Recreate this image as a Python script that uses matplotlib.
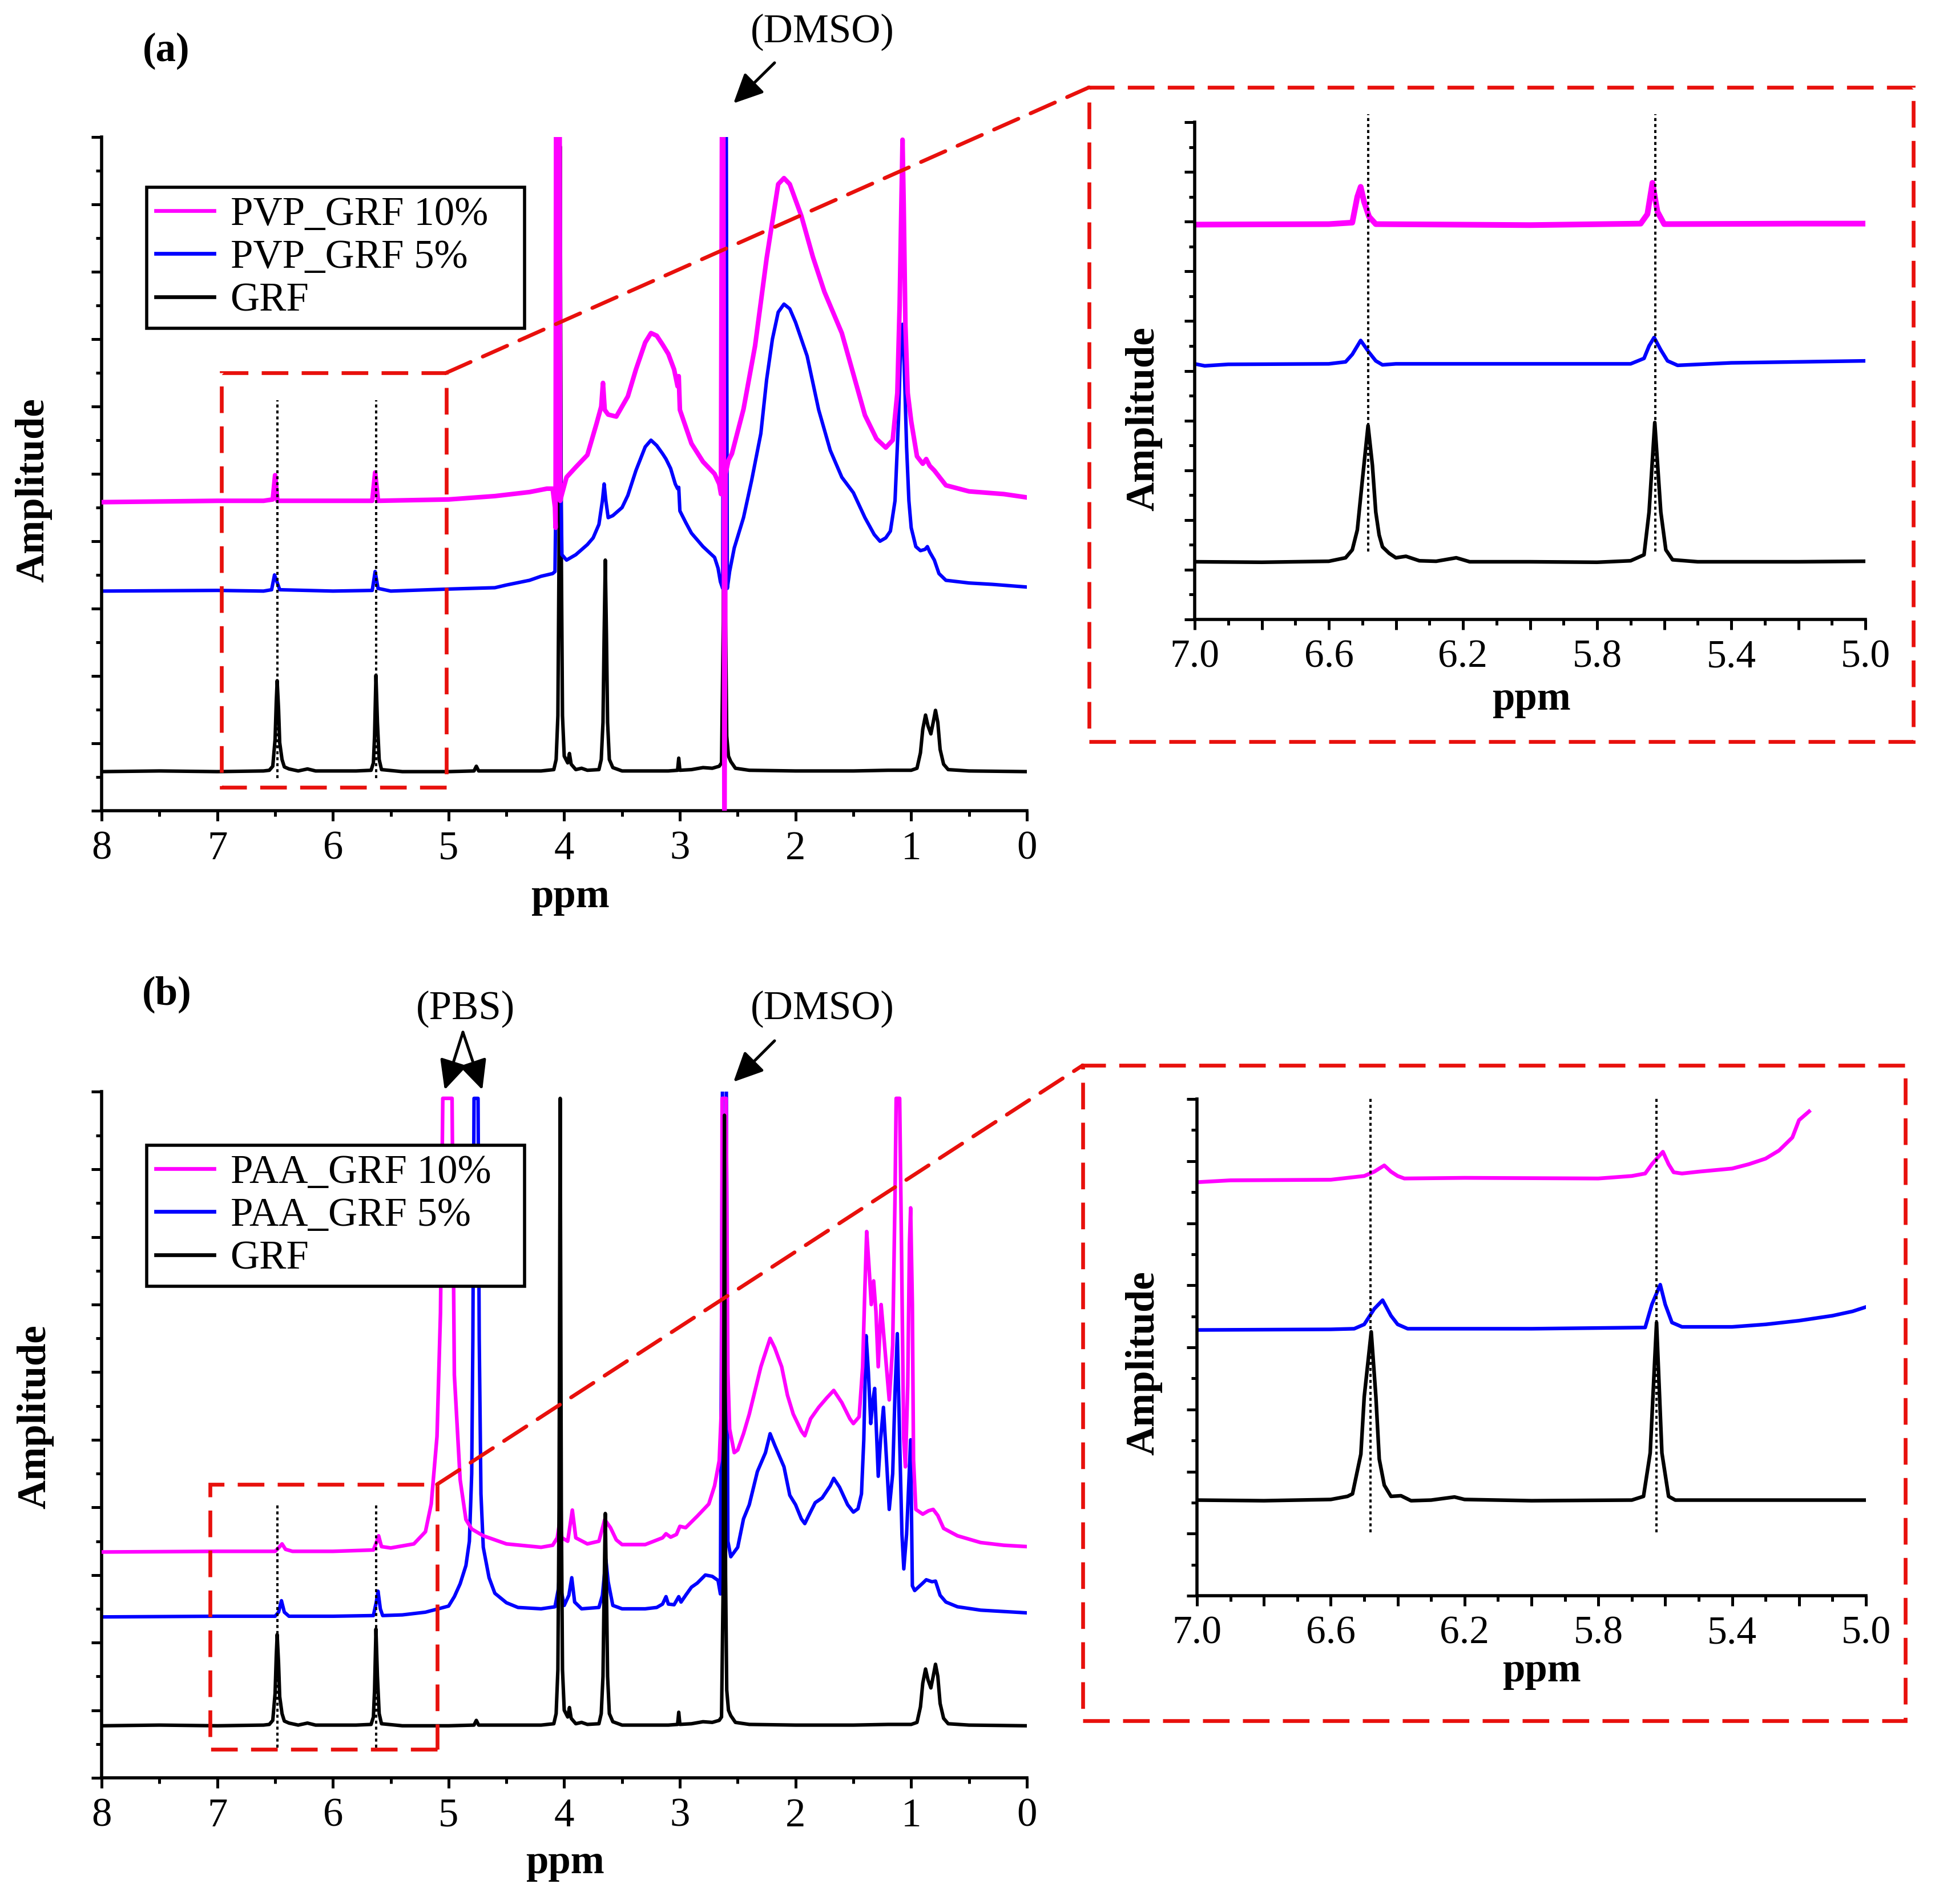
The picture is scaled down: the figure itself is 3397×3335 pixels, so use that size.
import matplotlib
matplotlib.use('Agg')
import matplotlib.pyplot as plt
from matplotlib.patches import Rectangle, ConnectionPatch, FancyArrowPatch

plt.rcParams['font.family'] = ['Liberation Serif', 'DejaVu Serif']

# ---------------- data ----------------
# GRF reference spectrum, as it sits in panel (b); panel (a) shows it 0.19 lower
grf_ppm = [8.0, 7.5, 7.0, 6.6, 6.55, 6.52, 6.50, 6.49, 6.482, 6.47, 6.46, 6.44, 6.42, 6.38,
           6.3, 6.22, 6.15, 5.8, 5.67, 5.65, 5.64, 5.628, 5.615, 5.60, 5.58, 5.4, 5.0, 4.78,
           4.76, 4.74, 4.2, 4.09, 4.07, 4.055, 4.045, 4.035, 4.025, 4.015, 4.0, 3.97, 3.955,
           3.94, 3.9, 3.85, 3.8, 3.7, 3.68, 3.665, 3.655, 3.645, 3.635, 3.625, 3.61, 3.58,
           3.5, 3.1, 3.02, 3.01, 3.0, 2.9, 2.8, 2.72, 2.66, 2.64, 2.625, 2.615, 2.605, 2.595,
           2.58, 2.56, 2.52, 2.4, 2.0, 1.5, 1.2, 1.0, 0.95, 0.92, 0.9, 0.876, 0.855, 0.83,
           0.81, 0.79, 0.77, 0.75, 0.72, 0.68, 0.5, 0.0]
grf_amp = [0.77, 0.78, 0.77, 0.78, 0.79, 0.85, 1.25, 1.8, 2.12, 1.7, 1.2, 0.95, 0.84, 0.81,
           0.78, 0.81, 0.78, 0.78, 0.79, 0.9, 1.3, 2.2, 1.5, 0.95, 0.8, 0.77, 0.77, 0.78,
           0.85, 0.78, 0.78, 0.8, 0.95, 1.6, 4.0, 10.05, 4.0, 1.6, 1.0, 0.9, 1.04,
           0.88, 0.8, 0.82, 0.79, 0.8, 0.95, 1.5, 2.8, 3.91, 2.8, 1.5, 0.95, 0.83,
           0.78, 0.78, 0.79, 0.97, 0.79, 0.8, 0.83, 0.82, 0.85, 0.9, 3.0, 9.8, 3.0, 1.3,
           1.0, 0.92, 0.82, 0.79, 0.78, 0.78, 0.79, 0.79, 0.82, 1.05, 1.4, 1.61, 1.45, 1.33,
           1.5, 1.68, 1.5, 1.1, 0.88, 0.8, 0.78, 0.77]
grf_shift_a = -0.19

pvp5_ppm = [8.0, 7.0, 6.6, 6.53, 6.505, 6.48, 6.46, 6.0, 5.66, 5.635, 5.61, 5.5, 5.0, 4.6,
            4.5, 4.3, 4.2, 4.1, 4.08, 4.07, 4.06, 4.04, 4.03, 4.02, 3.98, 3.9, 3.8, 3.75,
            3.7, 3.67, 3.655, 3.64, 3.62, 3.58, 3.5, 3.45, 3.38, 3.3, 3.25, 3.2, 3.15, 3.12,
            3.08, 3.04, 3.02, 3.01, 3.0, 2.95, 2.9, 2.8, 2.7, 2.67, 2.65, 2.63, 2.62, 2.60,
            2.59, 2.57, 2.53, 2.45, 2.38, 2.3, 2.25, 2.2, 2.15, 2.1, 2.05, 2.0, 1.9, 1.8,
            1.7, 1.6, 1.5, 1.4, 1.32, 1.27, 1.22, 1.18, 1.14, 1.11, 1.09, 1.075, 1.06, 1.04,
            1.02, 1.0, 0.96, 0.92, 0.88, 0.86, 0.84, 0.8, 0.76, 0.7, 0.5, 0.3, 0.0]
pvp5_amp = [3.26, 3.27, 3.26, 3.28, 3.5, 3.38, 3.28, 3.26, 3.27, 3.55, 3.3, 3.26, 3.29, 3.31,
            3.35, 3.42, 3.48, 3.52, 3.55, 5.0, 11.0, 11.0, 5.0, 3.8, 3.72, 3.8, 3.95, 4.05,
            4.25, 4.6, 4.85, 4.6, 4.35, 4.38, 4.5, 4.68, 5.05, 5.4, 5.5, 5.42, 5.3, 5.22,
            5.08, 4.85, 4.78, 4.8, 4.45, 4.28, 4.12, 3.92, 3.76, 3.6, 3.4, 3.3, 11.0, 11.0,
            3.3, 3.55, 3.9, 4.35, 4.9, 5.6, 6.4, 7.0, 7.4, 7.52, 7.45, 7.25, 6.75, 5.95,
            5.35, 4.95, 4.72, 4.35, 4.1, 4.0, 4.05, 4.15, 4.6, 5.8, 7.0, 7.22, 6.6, 5.4,
            4.6, 4.2, 3.92, 3.86, 3.88, 3.92, 3.84, 3.72, 3.52, 3.42, 3.38, 3.36, 3.32]

pvp10_ppm = [8.0, 7.0, 6.6, 6.52, 6.50, 6.48, 6.0, 5.66, 5.635, 5.61, 5.0, 4.6, 4.3, 4.15,
             4.1, 4.08, 4.075, 4.07, 4.04, 4.035, 4.02, 3.98, 3.9, 3.8, 3.72, 3.68, 3.665,
             3.65, 3.62, 3.55, 3.45, 3.38, 3.3, 3.25, 3.2, 3.15, 3.1, 3.05, 3.02, 3.01, 3.0,
             2.95, 2.9, 2.8, 2.7, 2.66, 2.645, 2.635, 2.625, 2.615, 2.605, 2.58, 2.55, 2.45,
             2.35, 2.25, 2.15, 2.1, 2.05, 1.95, 1.85, 1.75, 1.6, 1.5, 1.4, 1.3, 1.22, 1.16,
             1.12, 1.1, 1.085, 1.075, 1.065, 1.05, 1.03, 1.0, 0.95, 0.9, 0.87, 0.84, 0.8,
             0.7, 0.5, 0.2, 0.0]
pvp10_amp = [4.58, 4.6, 4.6, 4.62, 4.98, 4.6, 4.6, 4.6, 5.02, 4.6, 4.62, 4.67, 4.73, 4.78,
             4.78, 4.5, 4.2, 11.0, 11.0, 4.6, 4.7, 4.95, 5.1, 5.28, 5.75, 6.0, 6.35,
             5.95, 5.88, 5.85, 6.15, 6.55, 6.95, 7.09, 7.05, 6.92, 6.78, 6.55, 6.3, 6.45, 5.95,
             5.7, 5.45, 5.18, 5.0, 4.85, 4.7, 11.0, 11.0, -0.5, 5.0, 5.2, 5.3, 5.96,
             6.9, 8.2, 9.3, 9.39, 9.3, 8.83, 8.22, 7.7, 7.09, 6.48, 5.87, 5.52, 5.39, 5.5,
             6.2, 7.5, 9.0, 9.96, 9.0, 7.2, 6.2, 5.78, 5.26, 5.15, 5.22, 5.12, 5.05,
             4.83, 4.74, 4.7, 4.65]

paa5_ppm = [8.0, 7.0, 6.5, 6.47, 6.445, 6.42, 6.38, 6.0, 5.65, 5.625, 5.61, 5.59, 5.57, 5.4,
            5.2, 5.0, 4.95, 4.9, 4.85, 4.82, 4.8, 4.79, 4.78, 4.745, 4.735, 4.72, 4.7, 4.65,
            4.6, 4.5, 4.4, 4.2, 4.08, 4.05, 4.04, 4.03, 4.0, 3.96, 3.935, 3.91, 3.85, 3.7,
            3.67, 3.64, 3.62, 3.58, 3.5, 3.3, 3.2, 3.15, 3.12, 3.1, 3.05, 3.01, 2.99, 2.95,
            2.9, 2.85, 2.78, 2.72, 2.67, 2.65, 2.63, 2.6, 2.585, 2.56, 2.5, 2.45, 2.4, 2.33,
            2.26, 2.22, 2.18, 2.1, 2.05, 2.0, 1.95, 1.92, 1.88, 1.83, 1.77, 1.7, 1.67, 1.62,
            1.55, 1.5, 1.46, 1.43, 1.41, 1.39, 1.37, 1.35, 1.33, 1.316, 1.3, 1.285, 1.265,
            1.24, 1.22, 1.19, 1.16, 1.14, 1.12, 1.1, 1.08, 1.064, 1.04, 1.005, 0.99, 0.97,
            0.9, 0.87, 0.82, 0.79, 0.75, 0.7, 0.6, 0.4, 0.2, 0.0]
paa5_amp = [2.38, 2.39, 2.39, 2.45, 2.62, 2.45, 2.39, 2.39, 2.4, 2.6, 2.76, 2.5, 2.4, 2.41,
            2.45, 2.54, 2.68, 2.87, 3.14, 3.5, 4.5, 6.5, 10.05, 10.05, 6.5, 4.2, 3.41, 2.96,
            2.73, 2.59, 2.52, 2.5, 2.53, 2.8, 3.09, 2.8, 2.55, 2.7, 2.96, 2.6, 2.5, 2.52,
            2.7, 3.23, 2.9, 2.55, 2.5, 2.5, 2.52, 2.57, 2.68, 2.57, 2.56, 2.68, 2.6, 2.7,
            2.82, 2.88, 3.0, 2.98, 2.92, 2.72, 11.0, 11.0, 3.5, 3.27, 3.41, 3.83, 4.04, 4.53,
            4.81, 5.09, 4.92, 4.6, 4.18, 4.04, 3.83, 3.76, 3.9, 4.07, 4.14, 4.32, 4.43, 4.3,
            4.04, 3.93, 3.98, 4.2, 5.0, 6.54, 6.0, 5.24, 5.6, 5.76, 5.1, 4.46, 5.0,
            5.48, 4.9, 3.97, 4.5, 5.7, 6.57, 5.0, 3.6, 3.09, 3.6, 5.0, 2.84, 2.77,
            2.88, 2.93, 2.9, 2.91, 2.7, 2.6, 2.53, 2.48, 2.46, 2.44]

paa10_ppm = [8.0, 7.0, 6.5, 6.47, 6.44, 6.41, 6.35, 6.0, 5.65, 5.62, 5.605, 5.58, 5.5, 5.3,
             5.2, 5.15, 5.1, 5.07, 5.05, 4.97, 4.95, 4.9, 4.85, 4.8, 4.7, 4.5, 4.2, 4.1,
             4.06, 4.04, 4.02, 3.97, 3.93, 3.9, 3.8, 3.7, 3.65, 3.6, 3.55, 3.5, 3.3, 3.15,
             3.12, 3.08, 3.03, 3.0, 2.95, 2.85, 2.75, 2.7, 2.66, 2.64, 2.635, 2.6, 2.585,
             2.57, 2.53, 2.5, 2.45, 2.4, 2.35, 2.3, 2.22, 2.18, 2.12, 2.07, 2.02, 1.95, 1.92,
             1.87, 1.8, 1.73, 1.67, 1.6, 1.53, 1.5, 1.45, 1.42, 1.4, 1.385, 1.365, 1.345,
             1.325, 1.305, 1.285, 1.26, 1.24, 1.19, 1.16, 1.14, 1.13, 1.1, 1.085, 1.065,
             1.05, 1.03, 1.015, 1.005, 0.99, 0.98, 0.96, 0.9, 0.85, 0.81, 0.77, 0.72, 0.6,
             0.4, 0.2, 0.0]
paa10_amp = [3.34, 3.35, 3.35, 3.4, 3.46, 3.38, 3.35, 3.35, 3.37, 3.5, 3.58, 3.42, 3.4, 3.46,
             3.64, 4.05, 5.05, 6.88, 10.05, 10.05, 5.96, 4.41, 3.82, 3.68, 3.58, 3.46, 3.41,
             3.44, 3.55, 3.78, 3.55, 3.5, 3.96, 3.55, 3.46, 3.5, 3.82, 3.7, 3.52, 3.45, 3.45,
             3.55, 3.61, 3.56, 3.6, 3.72, 3.7, 3.87, 4.05, 4.32, 4.69, 5.5, 10.05, 10.05, 6.0,
             5.16, 4.81, 4.85, 5.09, 5.38, 5.73, 6.08, 6.5, 6.36, 6.08, 5.66, 5.38, 5.13, 5.06,
             5.31, 5.48, 5.62, 5.73, 5.55, 5.31, 5.24, 5.34, 6.08, 7.27, 8.08, 7.56, 7.0,
             7.35, 6.9, 6.08, 7.0, 6.6, 5.59, 6.4, 8.6, 10.05, 10.05, 8.0, 5.02,
             4.6, 5.8, 7.9, 8.43, 7.0, 4.7, 3.97, 3.9, 3.95, 3.97, 3.88, 3.69, 3.58,
             3.48, 3.44, 3.42]

# zoomed views (5.0 - 7.0 ppm)
ina_grf_ppm = [7.0, 6.8, 6.6, 6.55, 6.53, 6.515, 6.5, 6.483, 6.47, 6.46, 6.45, 6.44, 6.42,
               6.4, 6.37, 6.33, 6.28, 6.22, 6.18, 6.0, 5.8, 5.7, 5.66, 5.645, 5.628, 5.61,
               5.595, 5.575, 5.5, 5.2, 5.0]
ina_grf_amp = [1.16, 1.15, 1.17, 1.24, 1.4, 1.8, 2.8, 3.9, 3.1, 2.16, 1.7, 1.46, 1.33,
               1.24, 1.27, 1.18, 1.17, 1.24, 1.16, 1.16, 1.15, 1.18, 1.3, 2.16, 3.96, 2.16,
               1.4, 1.2, 1.16, 1.16, 1.17]
ina_pvp5_ppm = [7.0, 6.97, 6.9, 6.6, 6.55, 6.53, 6.505, 6.48, 6.46, 6.44, 6.4, 6.0, 5.7,
                5.66, 5.645, 5.63, 5.61, 5.59, 5.56, 5.4, 5.2, 5.0]
ina_pvp5_amp = [5.14, 5.1, 5.13, 5.14, 5.18, 5.33, 5.61, 5.37, 5.2, 5.12, 5.14, 5.14, 5.14,
                5.25, 5.5, 5.67, 5.42, 5.2, 5.11, 5.16, 5.18, 5.2]
ina_pvp10_ppm = [7.0, 6.6, 6.53, 6.515, 6.505, 6.495, 6.48, 6.46, 6.0, 5.67, 5.65, 5.635,
                 5.62, 5.6, 5.2, 5.0]
ina_pvp10_amp = [7.94, 7.95, 7.98, 8.5, 8.7, 8.4, 8.1, 7.95, 7.93, 7.96, 8.15, 8.78,
                 8.2, 7.95, 7.96, 7.96]

inb_grf_ppm = [7.0, 6.8, 6.6, 6.55, 6.535, 6.51, 6.5, 6.479, 6.465, 6.455, 6.44, 6.42,
               6.39, 6.36, 6.3, 6.23, 6.2, 6.0, 5.7, 5.665, 5.645, 5.626, 5.61, 5.59, 5.57, 5.0]
inb_grf_amp = [1.54, 1.53, 1.55, 1.6, 1.64, 2.28, 3.2, 4.25, 3.2, 2.2, 1.78, 1.6,
               1.61, 1.53, 1.54, 1.59, 1.55, 1.53, 1.54, 1.6, 2.3, 4.4, 2.3, 1.6, 1.54, 1.54]
inb_paa5_ppm = [7.0, 6.6, 6.53, 6.5, 6.47, 6.445, 6.42, 6.4, 6.37, 6.0, 5.66, 5.64, 5.615,
                5.6, 5.58, 5.55, 5.4, 5.3, 5.2, 5.1, 5.04, 5.0]
inb_paa5_amp = [4.28, 4.29, 4.3, 4.37, 4.62, 4.76, 4.51, 4.37, 4.3, 4.3, 4.32, 4.69, 5.01,
                4.69, 4.4, 4.33, 4.33, 4.37, 4.43, 4.51, 4.58, 4.65]
inb_paa10_ppm = [7.0, 6.9, 6.6, 6.5, 6.47, 6.44, 6.42, 6.4, 6.38, 6.2, 5.8, 5.7, 5.66, 5.64,
                 5.607, 5.59, 5.575, 5.55, 5.5, 5.4, 5.35, 5.3, 5.26, 5.22, 5.2, 5.17]
inb_paa10_amp = [6.66, 6.69, 6.7, 6.76, 6.83, 6.93, 6.83, 6.76, 6.72, 6.73, 6.72, 6.76, 6.8,
                 6.95, 7.15, 6.95, 6.82, 6.8, 6.83, 6.88, 6.95, 7.04, 7.17, 7.38, 7.66, 7.8]

marker_ppm = [6.482, 5.627]

# ---------------- figure ----------------
W, H = 3397, 3335
fig = plt.figure(figsize=(W / 200, H / 200), dpi=200)


def px(x, y):
    return x / W, 1 - y / H


FS = 25.5
MAG = '#ff00ff'
BLU = '#0000ff'
RED = '#e8100c'
DASH = (0, (7, 3.5))
DOT = (0, (1.3, 1.3))


def style_axis(ax, xmaj, xmin, ymaj, ymin, fs):
    for s in ['top', 'right']:
        ax.spines[s].set_visible(False)
    for s in ['left', 'bottom']:
        ax.spines[s].set_linewidth(2.0)
    ax.set_xticks(xmaj)
    ax.set_xticks(xmin, minor=True)
    ax.set_yticks(ymaj)
    ax.set_yticks(ymin, minor=True)
    ax.set_yticklabels([])
    ax.tick_params(which='major', length=6.5, width=1.8, direction='out', labelsize=fs, pad=6)
    ax.tick_params(which='minor', length=3.5, width=1.8, direction='out')


def main_panel(rect, ylim, traces, black_top, box, dots, conn_to, legend_labels, legend_box,
               amp_pos, ppm_pos):
    ax = fig.add_axes(rect)
    ax.set_xlim(8, 0)
    ax.set_ylim(*ylim)
    yt = list(range(0, 10))
    yt.append(ylim[1] if ylim[1] > 10.05 else 10)
    style_axis(ax, range(0, 9), [i + 0.5 for i in range(8)], yt,
               [i + 0.5 for i in range(10)], FS)
    ax.set_xticklabels([str(i) for i in range(0, 9)])
    handles = {}
    for key, (xs, ys, col, lw) in traces.items():
        z = 5 if (key == 'grf' and black_top) else (1 if key == 'grf' else {'5': 2, '10': 3}[key])
        line, = ax.plot(xs, ys, color=col, lw=lw, zorder=z, solid_joinstyle='round')
        handles[key] = line
    for p in dots:
        ax.plot([p[0], p[0]], [p[1], p[2]], color='k', ls=DOT, lw=1.45, zorder=6)
    x0, x1, y0, y1 = box
    ax.add_patch(Rectangle((x1, y0), x0 - x1, y1 - y0, fill=False, ec=RED, lw=2.4,
                           ls=DASH, zorder=7))
    con = ConnectionPatch(xyA=(x1, y1), coordsA=ax.transData, xyB=conn_to,
                          coordsB=fig.transFigure, color=RED, lw=2.4, ls=DASH)
    fig.add_artist(con)
    lx0, ly0 = px(legend_box[0], legend_box[1])
    lx1, _ = px(legend_box[2], legend_box[1])
    leg = ax.legend([handles['10'], handles['5'], handles['grf']], legend_labels,
                    loc='upper left', bbox_to_anchor=(lx0, ly0 - 0.05, lx1 - lx0, 0.05),
                    bbox_transform=fig.transFigure, mode='expand',
                    fontsize=FS, frameon=True, fancybox=False, edgecolor='k', framealpha=1,
                    handlelength=1.45, handletextpad=0.4, borderpad=0.22, labelspacing=0.15,
                    borderaxespad=0)
    leg.get_frame().set_linewidth(2.0)
    for ln in leg.get_lines():
        ln.set_linewidth(2.4)
    fig.text(*amp_pos, 'Amplitude', rotation=90, ha='center', va='center', fontsize=FS,
             fontweight='bold')
    fig.text(*ppm_pos, 'ppm', ha='center', va='center', fontsize=FS, fontweight='bold')
    return ax


def zoom_panel(rect, ytop, traces, dots, amp_pos, ppm_pos, frame):
    ax = fig.add_axes(rect)
    ax.set_xlim(7.0, 5.0)
    ax.set_ylim(0, ytop)
    xmaj = [7.0 - 0.2 * i for i in range(11)]
    style_axis(ax, xmaj, [7.0 - 0.1 * i for i in range(21)], range(0, ytop + 1),
               [i + 0.5 for i in range(ytop)], 25)
    ax.set_xticklabels(['%.1f' % v if i % 2 == 0 else '' for i, v in enumerate(xmaj)])
    for xs, ys, col, lw in traces:
        ax.plot(xs, ys, color=col, lw=lw, solid_joinstyle='round')
    for p in dots:
        ax.plot([p[0], p[0]], [p[1], p[2]], color='k', ls=DOT, lw=1.45,
                clip_on=False, zorder=6)
    fig.text(*amp_pos, 'Amplitude', rotation=90, ha='center', va='center', fontsize=FS,
             fontweight='bold')
    fig.text(*ppm_pos, 'ppm', ha='center', va='center', fontsize=FS, fontweight='bold')
    fx0, fy0 = px(frame[0], frame[3])
    fx1, fy1 = px(frame[2], frame[1])
    fig.add_artist(Rectangle((fx0, fy0), fx1 - fx0, fy1 - fy0, transform=fig.transFigure,
                             fill=False, ec=RED, lw=2.4, ls=DASH))
    return ax


def arrow(tail, tip):
    fig.add_artist(FancyArrowPatch(
        px(*tail), px(*tip), transform=fig.transFigure,
        arrowstyle='-|>,head_length=1.05,head_width=0.5', mutation_scale=15,
        color='k', lw=1.8, shrinkA=0, shrinkB=0))


# ---- panel (a)
grf_a = [v + grf_shift_a for v in grf_amp]
main_panel([178 / W, 1 - 1420 / H, 1621 / W, 1180 / H], (0, 10),
           {'grf': (grf_ppm, grf_a, 'k', 2.2),
            '5': (pvp5_ppm, pvp5_amp, BLU, 2.2),
            '10': (pvp10_ppm, pvp10_amp, MAG, 2.9)},
           False, (6.965, 5.02, 0.35, 6.5),
           [(marker_ppm[0], 0.48, 6.09), (marker_ppm[1], 0.48, 6.09)],
           px(1908, 153), ['PVP_GRF 10%', 'PVP_GRF 5%', 'GRF'], (257, 328, 919),
           px(59, 859), px(999, 1572))

zoom_panel([2093 / W, 1 - 1085 / H, 1175 / W, 871 / H], 10,
           [(ina_grf_ppm, ina_grf_amp, 'k', 2.3),
            (ina_pvp5_ppm, ina_pvp5_amp, BLU, 2.3),
            (ina_pvp10_ppm, ina_pvp10_amp, MAG, 3.6)],
           [(marker_ppm[0], 1.37, 10.16), (marker_ppm[1], 1.37, 10.16)],
           px(2004, 734), px(2683, 1225), (1908, 153, 3352, 1299))

fig.text(*px(291, 89), '(a)', ha='center', va='center', fontsize=FS, fontweight='bold')
fig.text(*px(1441, 56), '(DMSO)', ha='center', va='center', fontsize=FS)
arrow((1357, 110), (1285, 181))

# ---- panel (b)
main_panel([178 / W, 1 - 3114 / H, 1621 / W, 1202 / H], (0, 10.15),
           {'grf': (grf_ppm, grf_amp, 'k', 2.2),
            '5': (paa5_ppm, paa5_amp, BLU, 2.2),
            '10': (paa10_ppm, paa10_amp, MAG, 2.3)},
           True, (7.06, 5.1, 0.42, 4.34),
           [(marker_ppm[0], 0.45, 4.05), (marker_ppm[1], 0.45, 4.05)],
           px(1897, 1866), ['PAA_GRF 10%', 'PAA_GRF 5%', 'GRF'], (257, 2006, 919),
           px(62, 2482), px(990, 3264))

zoom_panel([2097 / W, 1 - 2795 / H, 1172 / W, 870 / H], 8,
           [(inb_grf_ppm, inb_grf_amp, 'k', 2.3),
            (inb_paa5_ppm, inb_paa5_amp, BLU, 2.3),
            (inb_paa10_ppm, inb_paa10_amp, MAG, 2.4)],
           [(marker_ppm[0], 1.02, 8.03), (marker_ppm[1], 1.02, 8.03)],
           px(2004, 2388), px(2701, 2927), (1897, 1866, 3338, 3014))

fig.text(*px(292, 1742), '(b)', ha='center', va='center', fontsize=FS, fontweight='bold')
fig.text(*px(815, 1767), '(PBS)', ha='center', va='center', fontsize=FS)
fig.text(*px(1441, 1767), '(DMSO)', ha='center', va='center', fontsize=FS)
arrow((811, 1808), (779, 1909))
arrow((811, 1808), (845, 1909))
arrow((1357, 1823), (1285, 1895))

fig.savefig('out.png', dpi=200)
